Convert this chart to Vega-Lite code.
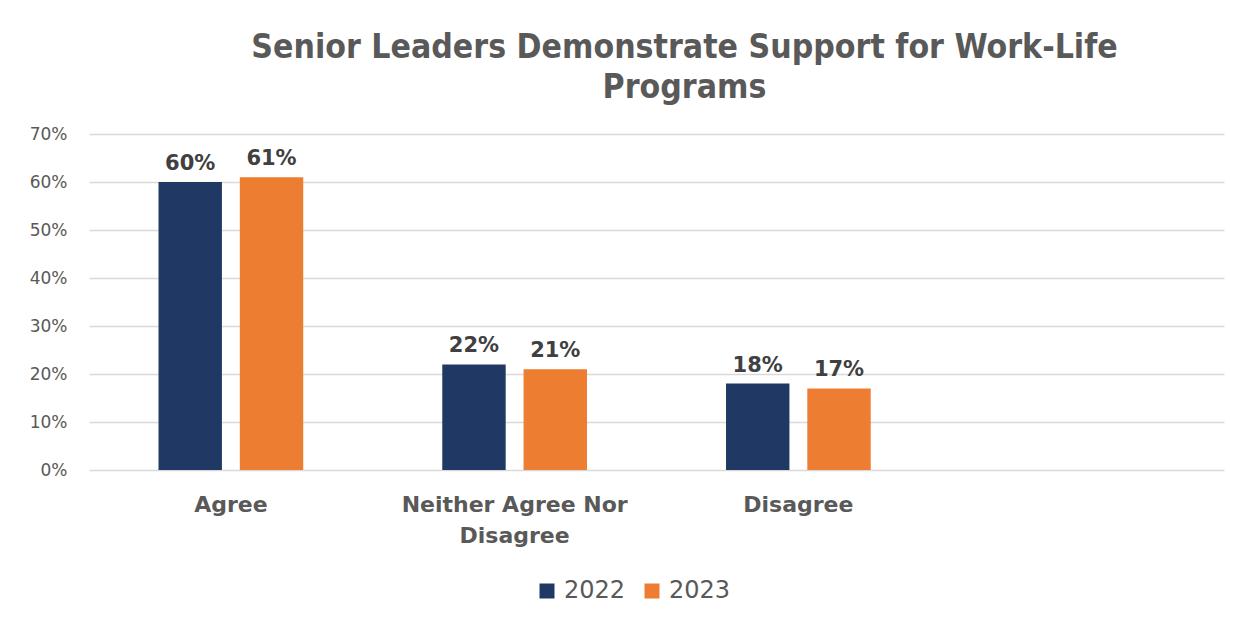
{
  "$schema": "https://vega.github.io/schema/vega-lite/v6.json",
  "autosize": {"type": "none"},
  "width": 1135,
  "height": 336,
  "padding": {"left": 89, "top": 134, "right": 25, "bottom": 152},
  "background": "white",
  "title": {
    "text": ["Senior Leaders Demonstrate Support for Work-Life", "Programs"],
    "font": "DejaVu Sans Condensed",
    "fontSize": 33.5,
    "fontWeight": "bold",
    "color": "#595959",
    "lineHeight": 40,
    "anchor": "middle",
    "dx": 28,
    "offset": 20
  },
  "data": {
    "values": [
      {"category": "Agree", "year": "2022", "value": 0.60},
      {"category": "Agree", "year": "2023", "value": 0.61},
      {"category": "Neither Agree Nor Disagree", "year": "2022", "value": 0.22},
      {"category": "Neither Agree Nor Disagree", "year": "2023", "value": 0.21},
      {"category": "Disagree", "year": "2022", "value": 0.18},
      {"category": "Disagree", "year": "2023", "value": 0.17}
    ]
  },
  "encoding": {
    "x": {
      "field": "category",
      "type": "nominal",
      "sort": null,
      "scale": {"domain": ["Agree", "Neither Agree Nor Disagree", "Disagree", " "], "paddingInner": 0.49, "paddingOuter": 0.245},
      "axis": {
        "title": null,
        "labelAngle": 0,
        "domain": false,
        "ticks": false,
        "labelPadding": 24,
        "labelLimit": 0,
        "labelFont": "DejaVu Sans",
        "labelFontSize": 22,
        "labelFontWeight": "bold",
        "labelColor": "#595959",
        "labelLineHeight": 31,
        "labelExpr": "datum.value == 'Neither Agree Nor Disagree' ? ['Neither Agree Nor', 'Disagree'] : datum.value"
      }
    },
    "xOffset": {"field": "year", "type": "nominal", "scale": {"paddingInner": 0.22, "paddingOuter": 0}},
    "y": {
      "field": "value",
      "type": "quantitative",
      "scale": {"domain": [0, 0.7]},
      "axis": {
        "title": null,
        "format": ".0%",
        "values": [0, 0.1, 0.2, 0.3, 0.4, 0.5, 0.6, 0.7],
        "domain": false,
        "ticks": false,
        "labelPadding": 22,
        "labelFont": "DejaVu Sans",
        "labelFontSize": 17,
        "labelColor": "#595959",
        "gridColor": "#d9d9d9",
        "gridWidth": 1.5
      }
    }
  },
  "layer": [
    {
      "mark": {"type": "bar"},
      "encoding": {
        "color": {
          "field": "year",
          "type": "nominal",
          "scale": {"domain": ["2022", "2023"], "range": ["#203864", "#ED7D31"]},
          "legend": {
            "title": null,
            "orient": "none",
            "direction": "horizontal",
            "legendX": 446,
            "legendY": 445,
            "symbolType": "square",
            "symbolSize": 225,
            "symbolStrokeWidth": 0,
            "labelFont": "DejaVu Sans",
            "labelFontSize": 24,
            "labelColor": "#595959",
            "columnPadding": 14,
            "labelOffset": 5
          }
        }
      }
    },
    {
      "mark": {"type": "text", "baseline": "bottom", "dy": -8, "font": "DejaVu Sans", "fontSize": 21, "fontWeight": "bold", "color": "#404040"},
      "encoding": {
        "text": {"field": "value", "type": "quantitative", "format": ".0%"}
      }
    }
  ],
  "config": {"view": {"stroke": null}}
}
